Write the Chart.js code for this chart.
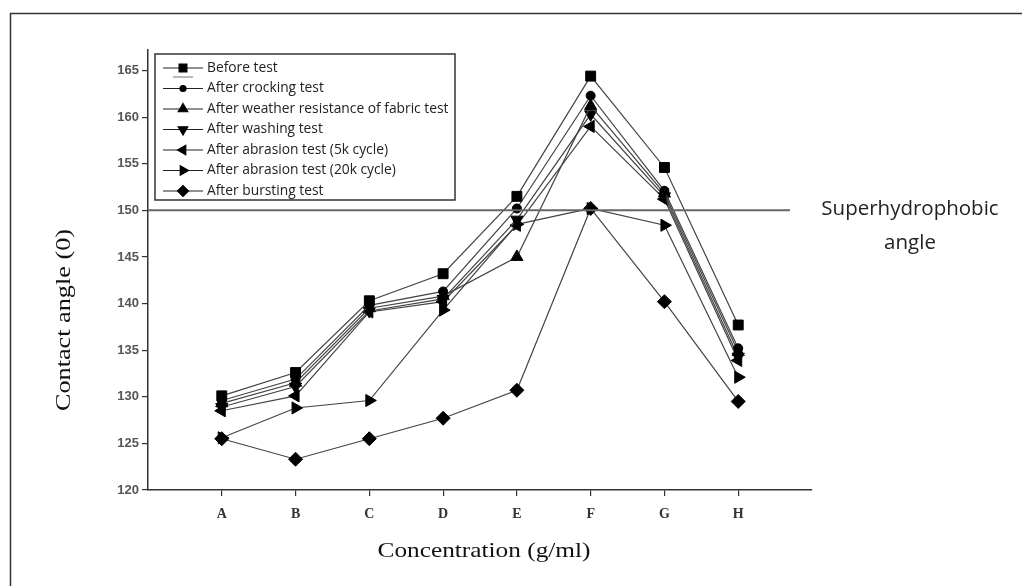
<!DOCTYPE html>
<html>
<head>
<meta charset="utf-8">
<script src="https://cdn.jsdelivr.net/npm/chart.js@4.4.1/dist/chart.umd.min.js"></script>
<style>
    html, body { margin: 0; padding: 0; background: #fff; }
    #chart-container { width: 1022px; height: 586px; position: relative; }
</style>
</head>
<body>
<div id="chart-container"><canvas id="chart-angle"></canvas></div>
<script>
const categories = ['A', 'B', 'C', 'D', 'E', 'F', 'G', 'H'];
const yTicks = [120, 125, 130, 135, 140, 145, 150, 155, 160, 165];

const beforeTest     = [130.1, 132.6, 140.3, 143.2, 151.5, 164.4, 154.6, 137.7];
const afterCrocking  = [129.6, 131.9, 139.8, 141.3, 150.2, 162.3, 152.1, 135.2];
const afterWeather   = [129.3, 131.5, 139.5, 140.8, 145.0, 161.2, 151.8, 134.8];
const afterWashing   = [128.9, 131.1, 139.2, 140.5, 149.0, 160.3, 151.5, 134.3];
const afterAbrasion5k  = [128.5, 130.1, 139.1, 140.2, 148.4, 159.0, 151.2, 133.9];
const afterAbrasion20k = [125.6, 128.8, 129.6, 139.3, 148.5, 150.2, 148.4, 132.1];
const afterBursting  = [125.5, 123.3, 125.5, 127.7, 130.7, 150.2, 140.2, 129.5];

const seriesNames = [
    'Before test',
    'After crocking test',
    'After weather resistance of fabric test',
    'After washing test',
    'After abrasion test (5k cycle)',
    'After abrasion test (20k cycle)',
    'After bursting test'
];

const superhydrophobicAngle = 150;

const toPoints = (values) => values.map((v, i) => ({ x: i + 1, y: v }));

// marker shapes, in the same order as seriesNames
const markers = [
    { style: 'rect', rotation: 0, radius: 7 },
    { style: 'circle', rotation: 0, radius: 4.5 },
    { style: 'triangle', rotation: 0, radius: 7 },
    { style: 'triangle', rotation: 180, radius: 7 },
    { style: 'triangle', rotation: 270, radius: 7 },
    { style: 'triangle', rotation: 90, radius: 7 },
    { style: 'rectRot', rotation: 0, radius: 7 }
];

const seriesValues = [beforeTest, afterCrocking, afterWeather, afterWashing, afterAbrasion5k, afterAbrasion20k, afterBursting];

const datasets = seriesValues.map((values, i) => ({
    label: seriesNames[i],
    data: toPoints(values),
    borderColor: '#444',
    borderWidth: 1.2,
    backgroundColor: '#000',
    pointBackgroundColor: '#000',
    pointBorderColor: '#000',
    pointBorderWidth: 1,
    pointStyle: markers[i].style,
    pointRotation: markers[i].rotation,
    pointRadius: markers[i].radius,
    tension: 0,
    fill: false
}));

const framePlugin = {
    id: 'frame',
    beforeDraw(chart) {
        const ctx = chart.ctx;
        ctx.save();
        ctx.fillStyle = '#fff';
        ctx.fillRect(0, 0, chart.width, chart.height);
        ctx.strokeStyle = '#333';
        ctx.lineWidth = 1.5;
        ctx.strokeRect(10.5, 13.5, 1040, 600);
        ctx.restore();
    }
};

const extrasPlugin = {
    id: 'extras',
    afterDatasetsDraw(chart) {
        const ctx = chart.ctx;
        const area = chart.chartArea;
        const y150 = chart.scales.y.getPixelForValue(superhydrophobicAngle);
        ctx.save();

        // superhydrophobic reference line
        ctx.strokeStyle = '#666';
        ctx.lineWidth = 2;
        ctx.beginPath();
        ctx.moveTo(area.left, y150);
        ctx.lineTo(790, y150);
        ctx.stroke();

        ctx.fillStyle = '#222';
        ctx.font = '20.5px "Open Sans"';
        ctx.textAlign = 'center';
        ctx.textBaseline = 'middle';
        ctx.fillText('Superhydrophobic', 910, 209);
        ctx.fillText('angle', 910, 243);

        // axis titles (the source text is a little stretched along its length)
        ctx.font = '22px "Liberation Serif"';
        ctx.fillStyle = '#111';
        ctx.save();
        ctx.translate(484, 551);
        ctx.scale(1.15, 1);
        ctx.fillText('Concentration (g/ml)', 0, 0);
        ctx.restore();
        ctx.save();
        ctx.font = '21px "Liberation Serif"';
        ctx.translate(64, 320);
        ctx.rotate(-Math.PI / 2);
        ctx.scale(1.25, 1);
        ctx.fillText('Contact angle (0)', 0, 0);
        ctx.restore();

        // legend box
        const box = { x: 155, y: 54, w: 300, h: 146 };
        ctx.fillStyle = '#fff';
        ctx.fillRect(box.x, box.y, box.w, box.h);
        ctx.strokeStyle = '#333';
        ctx.lineWidth = 1.5;
        ctx.strokeRect(box.x, box.y, box.w, box.h);

        ctx.font = '13.8px "Open Sans"';
        ctx.textAlign = 'left';
        chart.data.datasets.forEach((ds, i) => {
            const ry = 68 + i * 20.5;
            ctx.strokeStyle = '#222';
            ctx.lineWidth = 1.2;
            ctx.beginPath();
            ctx.moveTo(163, ry);
            ctx.lineTo(203, ry);
            ctx.stroke();
            ctx.fillStyle = '#000';
            ctx.strokeStyle = '#000';
            Chart.helpers.drawPoint(ctx, {
                pointStyle: ds.pointStyle,
                rotation: ds.pointRotation,
                radius: ds.pointRadius - 1.5,
                borderWidth: 1
            }, 183, ry);
            if (i === 0) {
                ctx.strokeStyle = '#888';
                ctx.beginPath();
                ctx.moveTo(173, ry + 9);
                ctx.lineTo(193, ry + 9);
                ctx.stroke();
            }
            ctx.fillStyle = '#222';
            ctx.fillText(ds.label, 207, ry);
        });
        ctx.restore();
    }
};

const options = {
    type: 'line',
    data: { datasets: datasets },
    options: {
        responsive: true,
        maintainAspectRatio: false,
        animation: false,
        events: [],
        layout: { padding: { left: 108, right: 210, top: 50, bottom: 56 } },
        plugins: {
            legend: { display: false },
            tooltip: { enabled: false }
        },
        scales: {
            x: {
                type: 'linear',
                min: 0,
                max: 9,
                afterBuildTicks: (scale) => {
                    scale.ticks = categories.map((c, i) => ({ value: i + 1 }));
                },
                afterFit: (scale) => { scale.height = 40; },
                ticks: {
                    callback: (value) => categories[value - 1],
                    font: { family: 'Liberation Serif', size: 14, weight: 'bold' },
                    color: '#333',
                    padding: 10,
                    maxRotation: 0
                },
                grid: {
                    drawOnChartArea: false,
                    drawTicks: true,
                    tickLength: 6,
                    color: '#333',
                    lineWidth: 1.2
                },
                border: { color: '#333', width: 1.5 }
            },
            y: {
                min: 120,
                max: 167.2,
                afterBuildTicks: (scale) => {
                    scale.ticks = yTicks.map(v => ({ value: v }));
                },
                afterFit: (scale) => { scale.width = 40; },
                ticks: {
                    font: { family: 'Liberation Sans', size: 13, weight: 'bold' },
                    color: '#555',
                    padding: 3
                },
                grid: {
                    drawOnChartArea: false,
                    drawTicks: true,
                    tickLength: 6,
                    color: '#333',
                    lineWidth: 1.2
                },
                border: { color: '#333', width: 1.5 }
            }
        }
    },
    plugins: [framePlugin, extrasPlugin]
};

const ctx = document.getElementById('chart-angle').getContext('2d');
const chartAngle = new Chart(ctx, options);
</script>
</body>
</html>
